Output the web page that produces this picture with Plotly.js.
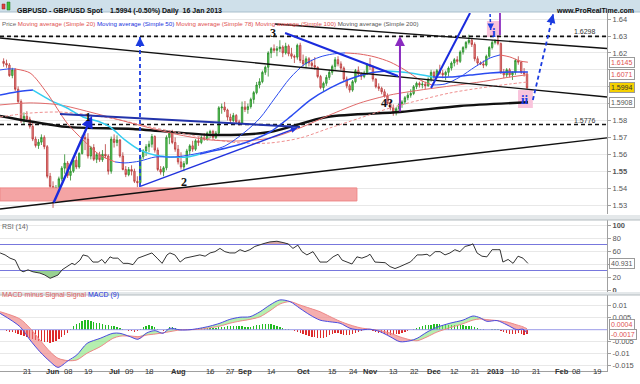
<!DOCTYPE html>
<html><head><meta charset="utf-8">
<script src="https://cdn.plot.ly/plotly-3.0.1.min.js"></script>
<style>html,body{margin:0;padding:0;background:#fff}#chart{width:640px;height:384px}</style>
</head><body><div id="chart"></div>
<script>
// ---- price data: trading-day index 0 = 9 May 2012 ... 180 = 16 Jan 2013
const open=[1.6150,1.6138,1.6128,1.6066,1.6100,1.5985,1.5912,1.5798,1.5825,1.5808,1.5765,1.5690,1.5652,1.5672,1.5700,1.5645,1.5470,1.5410,1.5355,1.5402,1.5455,1.5518,1.5548,1.5475,1.5500,1.5565,1.5525,1.5605,1.5700,1.5690,1.5590,1.5640,1.5570,1.5598,1.5568,1.5600,1.5590,1.5500,1.5690,1.5670,1.5685,1.5590,1.5510,1.5480,1.5510,1.5500,1.5440,1.5432,1.5585,1.5620,1.5645,1.5660,1.5705,1.5625,1.5510,1.5495,1.5520,1.5700,1.5725,1.5670,1.5630,1.5555,1.5525,1.5545,1.5620,1.5650,1.5630,1.5680,1.5670,1.5700,1.5690,1.5725,1.5735,1.5700,1.5725,1.5875,1.5880,1.5862,1.5820,1.5800,1.5830,1.5792,1.5785,1.5880,1.5865,1.5882,1.5925,1.5965,1.6010,1.6030,1.6085,1.6115,1.6200,1.6225,1.6215,1.6225,1.6235,1.6200,1.6240,1.6195,1.6180,1.6175,1.6245,1.6155,1.6135,1.6165,1.6140,1.6125,1.6115,1.6060,1.5995,1.6020,1.6055,1.6085,1.6120,1.6160,1.6135,1.6110,1.6045,1.6005,1.5980,1.6030,1.6095,1.6075,1.6060,1.6080,1.6130,1.6120,1.6045,1.6000,1.5990,1.5970,1.5945,1.5900,1.5875,1.5845,1.5870,1.5895,1.5910,1.5935,1.5950,1.5960,1.6000,1.6020,1.6010,1.6015,1.6005,1.6045,1.6085,1.6060,1.6095,1.6080,1.6070,1.6085,1.6110,1.6140,1.6160,1.6150,1.6205,1.6232,1.6262,1.6275,1.6250,1.6165,1.6140,1.6135,1.6128,1.6180,1.6232,1.6262,1.6270,1.6255,1.6085,1.6070,1.6100,1.6070,1.6085,1.6155,1.6145,1.6085,1.6075];
const high=[1.6168,1.6160,1.6140,1.6112,1.6110,1.6002,1.5925,1.5848,1.5855,1.5822,1.5785,1.5705,1.5690,1.5718,1.5712,1.5655,1.5490,1.5440,1.5418,1.5468,1.5530,1.5600,1.5560,1.5540,1.5578,1.5588,1.5612,1.5712,1.5720,1.5725,1.5650,1.5660,1.5610,1.5615,1.5625,1.5660,1.5600,1.5705,1.5718,1.5712,1.5690,1.5612,1.5530,1.5525,1.5535,1.5515,1.5470,1.5595,1.5630,1.5660,1.5680,1.5720,1.5712,1.5640,1.5530,1.5530,1.5712,1.5740,1.5745,1.5700,1.5655,1.5612,1.5560,1.5632,1.5660,1.5680,1.5690,1.5700,1.5712,1.5725,1.5735,1.5745,1.5745,1.5738,1.5885,1.5900,1.5910,1.5870,1.5840,1.5845,1.5838,1.5805,1.5912,1.5915,1.5900,1.5935,1.5975,1.6028,1.6050,1.6095,1.6125,1.6210,1.6235,1.6250,1.6240,1.6275,1.6245,1.6260,1.6250,1.6230,1.6190,1.6255,1.6260,1.6190,1.6180,1.6175,1.6160,1.6175,1.6120,1.6070,1.6030,1.6070,1.6100,1.6130,1.6175,1.6180,1.6150,1.6120,1.6060,1.6015,1.6040,1.6105,1.6120,1.6085,1.6095,1.6140,1.6170,1.6125,1.6050,1.6020,1.6000,1.5985,1.5960,1.5920,1.5895,1.5880,1.5905,1.5920,1.5945,1.5965,1.5985,1.6010,1.6030,1.6030,1.6035,1.6030,1.6055,1.6100,1.6095,1.6105,1.6130,1.6100,1.6095,1.6120,1.6150,1.6170,1.6180,1.6215,1.6240,1.6270,1.6308,1.6285,1.6262,1.6180,1.6150,1.6155,1.6190,1.6240,1.6275,1.6280,1.6305,1.6262,1.6105,1.6110,1.6110,1.6090,1.6165,1.6180,1.6150,1.6110,1.6085];
const low=[1.6118,1.6112,1.6058,1.6050,1.5975,1.5902,1.5785,1.5775,1.5792,1.5752,1.5678,1.5640,1.5632,1.5655,1.5630,1.5458,1.5375,1.5283,1.5330,1.5385,1.5440,1.5485,1.5460,1.5445,1.5490,1.5512,1.5515,1.5598,1.5625,1.5575,1.5570,1.5560,1.5548,1.5555,1.5555,1.5575,1.5480,1.5485,1.5640,1.5648,1.5580,1.5505,1.5465,1.5470,1.5475,1.5430,1.5405,1.5428,1.5570,1.5590,1.5612,1.5640,1.5610,1.5500,1.5480,1.5470,1.5505,1.5660,1.5660,1.5615,1.5540,1.5510,1.5500,1.5538,1.5595,1.5615,1.5620,1.5650,1.5660,1.5680,1.5680,1.5695,1.5690,1.5690,1.5720,1.5840,1.5850,1.5800,1.5785,1.5790,1.5780,1.5770,1.5778,1.5850,1.5840,1.5870,1.5900,1.5955,1.5990,1.6020,1.6070,1.6060,1.6170,1.6200,1.6180,1.6205,1.6175,1.6190,1.6180,1.6165,1.6140,1.6160,1.6140,1.6120,1.6110,1.6120,1.6110,1.6100,1.6050,1.5985,1.5975,1.6005,1.6040,1.6070,1.6100,1.6120,1.6095,1.6030,1.5990,1.5965,1.5970,1.6020,1.6060,1.6040,1.6050,1.6070,1.6100,1.6030,1.5990,1.5975,1.5955,1.5935,1.5890,1.5860,1.5828,1.5830,1.5855,1.5875,1.5895,1.5920,1.5935,1.5950,1.5985,1.5995,1.5990,1.5985,1.6000,1.6030,1.6045,1.6050,1.6070,1.6050,1.6040,1.6060,1.6095,1.6120,1.6130,1.6140,1.6190,1.6220,1.6250,1.6235,1.6150,1.6125,1.6128,1.6110,1.6120,1.6170,1.6220,1.6250,1.6245,1.6075,1.6050,1.6055,1.6055,1.6040,1.6070,1.6130,1.6075,1.6060,1.5985];
const close=[1.6138,1.6128,1.6066,1.6100,1.5985,1.5912,1.5798,1.5825,1.5808,1.5765,1.5690,1.5652,1.5672,1.5700,1.5645,1.5470,1.5410,1.5355,1.5402,1.5455,1.5518,1.5548,1.5475,1.5500,1.5565,1.5525,1.5605,1.5700,1.5690,1.5590,1.5640,1.5570,1.5598,1.5568,1.5600,1.5590,1.5500,1.5690,1.5670,1.5685,1.5590,1.5510,1.5480,1.5510,1.5500,1.5440,1.5432,1.5585,1.5620,1.5645,1.5660,1.5705,1.5625,1.5510,1.5495,1.5520,1.5700,1.5725,1.5670,1.5630,1.5555,1.5525,1.5545,1.5620,1.5650,1.5630,1.5680,1.5670,1.5700,1.5690,1.5725,1.5735,1.5700,1.5725,1.5875,1.5880,1.5862,1.5820,1.5800,1.5830,1.5792,1.5785,1.5880,1.5865,1.5882,1.5925,1.5965,1.6010,1.6030,1.6085,1.6115,1.6200,1.6225,1.6215,1.6225,1.6235,1.6200,1.6240,1.6195,1.6180,1.6175,1.6245,1.6155,1.6135,1.6165,1.6140,1.6125,1.6115,1.6060,1.5995,1.6020,1.6055,1.6085,1.6120,1.6160,1.6135,1.6110,1.6045,1.6005,1.5980,1.6030,1.6095,1.6075,1.6060,1.6080,1.6130,1.6120,1.6045,1.6000,1.5990,1.5970,1.5945,1.5900,1.5875,1.5845,1.5870,1.5895,1.5910,1.5935,1.5950,1.5960,1.6000,1.6020,1.6010,1.6015,1.6005,1.6045,1.6085,1.6060,1.6095,1.6080,1.6070,1.6085,1.6110,1.6140,1.6160,1.6150,1.6205,1.6232,1.6262,1.6275,1.6250,1.6165,1.6140,1.6135,1.6128,1.6180,1.6232,1.6262,1.6270,1.6255,1.6085,1.6070,1.6100,1.6070,1.6085,1.6155,1.6145,1.6085,1.6075,1.5994];

// ---- moving averages (trading-day index, price)
const ma20Idx=[-1.24,1.5,3.9,9.1,14.9,21.8,27.3,33.1,38.3,41.7,46.9,52.1,58.9,67.5,76.1,83,88.2,93.3,98.5,103.6,108.8,113,117.4,122.6,127.7,132.9,138,143.2,147.3,151.8,156.9,162.1,167.3,170.7,174.1,177.6,180.3];
const ma20Val=[1.6099,1.6105,1.6105,1.6081,1.5963,1.5785,1.5685,1.5596,1.5555,1.5549,1.5560,1.5584,1.5584,1.5608,1.5649,1.5732,1.5815,1.5933,1.6051,1.6134,1.6176,1.6193,1.6200,1.6193,1.6176,1.6146,1.6099,1.6040,1.6010,1.6016,1.6057,1.6117,1.6170,1.6188,1.6176,1.6152,1.6145];
const ma50Idx=[-1.24,4.3,10.1,16,21.8,27.3,33.1,36.6,41.7,46.9,53.8,63.1,67.5,77.9,84.7,91.6,98.5,105.4,112.2,119.1,126,131.8,139.8,147.7,153.5,160.4,167.3,174.1,180.3];
const ma50Val=[1.5951,1.5969,1.5980,1.5921,1.5874,1.5821,1.5791,1.5762,1.5685,1.5625,1.5590,1.5584,1.5602,1.5643,1.5679,1.5732,1.5821,1.5921,1.5992,1.6046,1.6081,1.6093,1.6081,1.6057,1.6057,1.6069,1.6081,1.6087,1.6087];
const ma78Idx=[-1.24,9.1,19.4,29.7,40,50.3,60.7,71,81.3,91.6,101.9,112.2,122.6,132.9,143.2,153.5,163.8,174.1,180.3];
const ma78Val=[1.5892,1.5904,1.5892,1.5850,1.5803,1.5756,1.5714,1.5685,1.5679,1.5696,1.5756,1.5833,1.5904,1.5951,1.5980,1.6004,1.6028,1.6057,1.6071];
const ma100Idx=[-1.24,9.1,19.4,29.7,40,50.3,60.7,71,81.3,91.6,101.9,112.2,122.6,132.9,143.2,153.5,163.8,174.1,180.3];
const ma100Val=[1.5821,1.5844,1.5850,1.5833,1.5803,1.5762,1.5726,1.5691,1.5667,1.5667,1.5696,1.5756,1.5815,1.5874,1.5921,1.5963,1.5992,1.6016,1.6028];
const ma200Idx=[-1.24,21.8,44.5,73.4,91.6,111.2,136.3,156.9,180.3];
const ma200Val=[1.5827,1.5762,1.5750,1.5714,1.5732,1.5821,1.5850,1.5886,1.5908];

// ---- RSI(14)
const rsiIdx=[-1.2,0.5,2.2,4,5.6,6.7,8.4,10.1,12.5,14.2,16,17,18.7,20.1,21.8,23.5,24.5,26.3,27.3,29,30.7,32.5,33.8,34.9,36.6,37.6,39.3,41.1,42.8,44.5,46.2,47.6,49.3,51,52.8,54.5,56.2,57.2,58.9,60.7,62.4,64.1,65.8,67.5,69.3,71,72.7,74.4,76.1,77.8,79.6,81.3,83,84.7,86.4,88.2,89.9,91.6,94,96.1,97.8,99.5,101.2,102.6,104.3,106.4,108.8,111.2,113.3,115,116.4,118.1,119.8,121.5,123.2,125,126,127.7,129.4,131.2,132.9,134.6,136.3,138,139.8,140.8,142.2,143.9,145.6,146.6,148.4,150.1,151.8,153.5,155.2,156.9,158.7,160.4,161.4,162.8,164.5,166.2,168,169.7,170.7,171.7,173.5,175.2,176.9,178.6,180.3];
const rsiVal=[57,54,49,46,31,28,31,28,26,23,18,20,23,31,36,41,39,46,54,52,43,43,47,41,51,49,49,41,41,39,49,51,54,57,49,41,54,57,54,43,49,51,52,54,52,57,59,64,59,57,57,62,59,62,67,69,72,74,75,73,71,64,69,59,54,59,43,43,51,55,46,43,40,51,49,52,55,43,43,42,36,33,36,39,43,47,54,54,55,52,59,59,54,57,62,59,67,69,71,57,52,51,62,62,62,43,47,41,52,49,40.931];

// ---- MACD (12,26,9)
const macdIdx=[-1.2,5.6,9.1,12.5,16,18.7,22.2,25.2,28.7,33.2,37.6,40,43.5,46.2,49.3,52.1,54.8,57.2,60.7,64.1,67.5,71,74.4,77.8,81.3,84.7,88.2,91.6,95,98.5,101.9,105.4,108.8,112.2,115.7,119.1,122.6,126,129.4,132.9,136.3,139.8,142.2,145.6,149,153.5,158,161.4,163.8,166.2,169.7,173.1,176.5,178.6,180];
const macdVal=[0.0068,0.0013,-0.0043,-0.0092,-0.0133,-0.0157,-0.0129,-0.0105,-0.0057,-0.0036,-0.0015,-0.0015,-0.0029,-0.0040,-0.0013,-0.0004,-0.0015,0.0006,-0.0001,0.0000,0.0006,0.0015,0.0027,0.0043,0.0052,0.0054,0.0075,0.0103,0.0124,0.0117,0.0089,0.0061,0.0040,0.0033,0.0027,0.0006,-0.0001,0.0002,-0.0008,-0.0029,-0.0050,-0.0046,-0.0036,-0.0010,0.0010,0.0027,0.0040,0.0057,0.0050,0.0035,0.0038,0.0020,0.0000,0.0002,-0.0013];
const sigVal=[0.0075,0.0045,0.0006,-0.0043,-0.0092,-0.0119,-0.0129,-0.0126,-0.0098,-0.0071,-0.0036,-0.0027,-0.0026,-0.0029,-0.0022,-0.0018,-0.0013,-0.0008,-0.0001,0.0000,0.0002,0.0008,0.0015,0.0027,0.0036,0.0043,0.0054,0.0079,0.0107,0.0117,0.0103,0.0089,0.0075,0.0055,0.0035,0.0020,0.0008,0.0002,-0.0004,-0.0014,-0.0030,-0.0042,-0.0046,-0.0030,-0.0010,0.0008,0.0025,0.0040,0.0045,0.0042,0.0038,0.0032,0.0020,0.0012,0.0004];
const histVal=[-0.0003,-0.0005,-0.0008,-0.0010,-0.0014,-0.0018,-0.0022,-0.0027,-0.0031,-0.0035,
-0.0039,-0.0042,-0.0045,-0.0048,-0.0051,-0.0053,-0.0054,-0.0050,-0.0046,-0.0040,
-0.0032,-0.0024,-0.0012,0.0004,0.0014,0.0022,0.0029,0.0035,0.0039,0.0040,
0.0037,0.0033,0.0030,0.0026,0.0022,0.0020,0.0018,0.0017,0.0016,0.0013,
0.0009,0.0004,-0.0002,-0.0004,-0.0006,-0.0008,-0.0005,0.0003,0.0012,0.0016,
0.0018,0.0017,0.0013,0.0004,-0.0002,-0.0004,0.0004,0.0010,0.0012,0.0008,
0.0004,0.0001,-0.0001,0.0001,0.0002,0.0003,0.0004,0.0006,0.0008,0.0009,
0.0007,0.0007,0.0008,0.0009,0.0011,0.0012,0.0013,0.0014,0.0015,0.0015,
0.0015,0.0015,0.0014,0.0013,0.0012,0.0013,0.0016,0.0019,0.0021,0.0022,
0.0023,0.0024,0.0022,0.0019,0.0015,0.0012,0.0008,0.0004,0.0001,-0.0002,
-0.0006,-0.0010,-0.0014,-0.0018,-0.0022,-0.0026,-0.0029,-0.0032,-0.0034,-0.0035,
-0.0034,-0.0030,-0.0024,-0.0018,-0.0015,-0.0014,-0.0017,-0.0021,-0.0024,-0.0022,
-0.0017,-0.0012,-0.0008,-0.0004,-0.0001,0.0000,-0.0002,-0.0005,-0.0009,-0.0012,
-0.0015,-0.0018,-0.0020,-0.0021,-0.0021,-0.0019,-0.0016,-0.0012,-0.0008,-0.0004,
0.0000,0.0004,0.0008,0.0012,0.0015,0.0018,0.0020,0.0021,0.0022,0.0022,
0.0022,0.0021,0.0020,0.0020,0.0020,0.0020,0.0019,0.0019,0.0018,0.0017,
0.0016,0.0014,0.0012,0.0009,0.0005,0.0002,-0.0001,-0.0002,0.0001,0.0002,
0.0001,-0.0004,-0.0008,-0.0012,-0.0016,-0.0018,-0.0016,-0.0014,-0.0019,-0.0021,
-0.0017];

// ---- x-axis labels
const tickIdx=[8,17,22,29,38,43,50,60,71,78,83,92,103,113,120,126,134,141,148,155,162,169,176,183,192,197,204];
const tickLab=['21','Jun','08','19','Jul','09','18','Aug','16','27','Sep','14','Oct','15','24','Nov','13','22','Dec','12','21','2013','10','21','Feb','08','19'];
const boldLab=['Jun','Jul','Aug','Sep','Oct','Nov','Dec','2013','Feb'];

// ---- analyst drawings (trading-day index, price)
const resistLevel=1.6298, supportLevel=1.5776;
const lineAx=[-1.24,207.5], lineAy=[1.6288,1.5939];
const lineBx=[93.3,207.5], lineBy=[1.6371,1.6226];
const lineCx=[-1.24,207.5], lineCy=[1.5276,1.5697];
const arrow1x=[17,30.4], arrow1y=[1.5306,1.5827];
const vdashx=[46.9,46.9], vdashy=[1.5407,1.6294];
const line2x=[47.2,100.9], line2y=[1.5412,1.5756];
const line2bx=[19.4,101.9], line2by=[1.5838,1.5762];
const line3x=[96.8,135.6], line3y=[1.6318,1.6063];
const steepx=[147,160.4], steepy=[1.5992,1.6436];
const purpx=[136.3,136.3], purpy=[1.5844,1.6300];
const purp2x=[170.7,170.7], purp2y=[1.6306,1.6436];
const boxIx=[166.2,170.7], boxIy=[1.6294,1.6389];
const boxIIx=[176.9,182], boxIIy=[1.5874,1.5980];
const dashUpx=[182,189], dashUpy=[1.5921,1.6430];
const dashIx=[167.3,167.5], dashIy=[1.6430,1.6335];
const zoneX=[-1.24,121.5], zoneY=[1.5324,1.5401];
const waveLab=['1','2','3','4?'], waveX=[29,62,92.6,131.8], waveY=[1.5818,1.5436,1.6318,1.5904];

// ---- styles
const BLUE='#2a4bf0', RED='#e06060', CYAN='#34cdf0';
const ma20Breaks=[3.9,38.3,117.4,147.3,170.7], ma20Colors=[BLUE,RED,BLUE,RED,BLUE,RED];
const ma50Breaks=[10.1,67.5,131.8,147.7], ma50Colors=[BLUE,CYAN,BLUE,CYAN,BLUE];

// ---- geometry helpers (pixel layout of the panels)
const PH=371; const py=v=>(PH-v)/PH; const PW=607;
const priceAt=y=>1.63+(36-y)/1690, rsiAt=y=>(290-y)/0.65, macdAt=y=>(329.7-y)/2400;
const idx=close.map((_,i)=>i);
const xr=[-1.24,207.5];

function ln(x,y,color,width,dash,ya,shape){return {type:'scatter',mode:'lines',x:x,y:y,xaxis:'x',yaxis:ya||'y',line:{color:color,width:width,dash:dash||'solid',shape:shape||'linear',smoothing:0.8},hoverinfo:'skip',showlegend:false};}
function fillTr(x,y,color,fill,ya){return {type:'scatter',mode:'lines',x:x,y:y,xaxis:'x',yaxis:ya,line:{width:0,color:color},fill:fill,fillcolor:color,hoverinfo:'skip',showlegend:false};}
function segTraces(xs,ys,breaks,colors,w){const cuts=[0].concat(breaks.map(b=>xs.indexOf(b)),[xs.length-1]);const out=[];for(let k=0;k<cuts.length-1;k++){out.push(ln(xs.slice(cuts[k],cuts[k+1]+1),ys.slice(cuts[k],cuts[k+1]+1),colors[k],w,null,'y','spline'));}return out;}

const traces=[];
traces.push({type:'scatter',mode:'lines',x:[zoneX[0],zoneX[1],zoneX[1],zoneX[0],zoneX[0]],y:[zoneY[0],zoneY[0],zoneY[1],zoneY[1],zoneY[0]],fill:'toself',fillcolor:'#f4a4a4',line:{color:'#e88',width:1},xaxis:'x',yaxis:'y',hoverinfo:'skip',showlegend:false});
[[boxIx,boxIy],[boxIIx,boxIIy]].forEach(b=>traces.push({type:'scatter',mode:'lines',x:[b[0][0],b[0][1],b[0][1],b[0][0],b[0][0]],y:[b[1][0],b[1][0],b[1][1],b[1][1],b[1][0]],fill:'toself',fillcolor:'#f9c4dc',line:{width:0},xaxis:'x',yaxis:'y',hoverinfo:'skip',showlegend:false}));
traces.push(ln(xr,[resistLevel,resistLevel],'#111',1.6,'4px,3px'));
traces.push(ln(xr,[supportLevel,supportLevel],'#111',1.6,'4px,3px'));
traces.push({type:'candlestick',x:idx,open:open,high:high,low:low,close:close,xaxis:'x',yaxis:'y',
  increasing:{line:{color:'#2a8a2a',width:0.8},fillcolor:'#5ad25a'},
  decreasing:{line:{color:'#b83b3b',width:0.8},fillcolor:'#f08a8a'},whiskerwidth:0,hoverinfo:'skip',showlegend:false});
traces.push(ln(ma200Idx,ma200Val,'#111',2.4,null,'y','spline'));
traces.push(ln(ma100Idx,ma100Val,'#ef9090',1,'3px,2px','y','spline'));
traces.push(ln(ma78Idx,ma78Val,'#e06a6a',1,null,'y','spline'));
segTraces(ma50Idx,ma50Val,ma50Breaks,ma50Colors,1.5).forEach(t=>traces.push(t));
segTraces(ma20Idx,ma20Val,ma20Breaks,ma20Colors,1).forEach(t=>traces.push(t));
traces.push(ln(lineAx,lineAy,'#111',1.4));
traces.push(ln(lineBx,lineBy,'#111',1.4));
traces.push(ln(lineCx,lineCy,'#111',1.4));
traces.push(ln(line2x,line2y,'#2233dd',1.3));
traces.push(ln(line2bx,line2by,'#2233aa',2));
traces.push(ln(line3x,line3y,'#1a2bdd',2));
traces.push(ln(steepx,steepy,'#1a2bdd',2));
traces.push(ln(vdashx,vdashy,'#1a3be0',1.8,'4px,3px'));
traces.push(ln(dashUpx,dashUpy,'#1a3be0',1.8,'4px,3px'));
traces.push(ln(dashIx,dashIy,'#1a3be0',1.5,'3px,2px'));
traces.push(ln(purp2x,purp2y,'#8a2bc0',1.8));

const rsiLow=rsiVal.map(v=>Math.min(v,30)), rsiHigh=rsiVal.map(v=>Math.max(v,70));
traces.push(ln(rsiIdx,rsiIdx.map(()=>30),'rgba(0,0,0,0)',0,null,'y2'));
traces.push(fillTr(rsiIdx,rsiLow,'rgba(110,190,100,0.7)','tonexty','y2'));
traces.push(ln(rsiIdx,rsiIdx.map(()=>70),'rgba(0,0,0,0)',0,null,'y2'));
traces.push(fillTr(rsiIdx,rsiHigh,'rgba(200,130,130,0.7)','tonexty','y2'));
traces.push(ln(xr,[70,70],'#7777dd',1.2,null,'y2'));
traces.push(ln(xr,[30,30],'#7777dd',1.2,null,'y2'));
traces.push(ln(rsiIdx,rsiVal,'#333',1,null,'y2'));

const mHi=macdVal.map((v,i)=>Math.max(v,sigVal[i])), mLo=macdVal.map((v,i)=>Math.min(v,sigVal[i]));
traces.push(ln(macdIdx,sigVal,'rgba(0,0,0,0)',0,null,'y3','spline'));
traces.push(Object.assign(fillTr(macdIdx,mHi,'rgba(120,225,110,0.55)','tonexty','y3'),{line:{width:0,shape:'spline'}}));
traces.push(ln(macdIdx,sigVal,'rgba(0,0,0,0)',0,null,'y3','spline'));
traces.push(Object.assign(fillTr(macdIdx,mLo,'rgba(238,120,120,0.6)','tonexty','y3'),{line:{width:0,shape:'spline'}}));
traces.push(ln(xr,[0,0],'#9a9ae8',1,null,'y3'));
traces.push({type:'bar',x:idx,y:histVal,xaxis:'x',yaxis:'y3',width:0.45,marker:{color:histVal.map(v=>v>=0?'#22bb22':'#dd2a2a'),line:{width:0}},hoverinfo:'skip',showlegend:false});
traces.push(ln(macdIdx,sigVal,'#ee8888',1,null,'y3','spline'));
traces.push(ln(macdIdx,macdVal,'#4a4ae0',1,null,'y3','spline'));

// ---- annotations
const F='Liberation Sans, Arial, sans-serif';
const ann=[];
function arrow(x,y,ax,ay,color,w){ann.push({x:x,y:y,ax:ax,ay:ay,xref:'x',yref:'y',axref:'x',ayref:'y',showarrow:true,arrowhead:2,arrowsize:1,arrowwidth:w,arrowcolor:color,text:''});}
arrow(arrow1x[1],arrow1y[1],arrow1x[0],arrow1y[0],'#1a2bdd',2.4);
arrow(purpx[1],purpy[1],purpx[0],purpy[0],'#8a2bc0',2);
arrow(vdashx[1],vdashy[1],vdashx[1],vdashy[1]-0.004,'#1a3be0',1.8);
arrow(dashUpx[1],dashUpy[1],dashUpx[1]-0.6,dashUpy[1]-0.004,'#1a3be0',1.8);
arrow(line2x[1],line2y[1],line2x[1]-3,line2y[1]-0.0019,'#2233dd',1.2);
arrow(dashIx[1],dashIy[1],dashIx[1],dashIy[1]+0.003,'#1a3be0',1.3);
waveLab.forEach((t,i)=>ann.push({x:waveX[i],y:waveY[i],xref:'x',yref:'y',text:'<b>'+t+'</b>',showarrow:false,font:{family:'Liberation Serif, serif',size:12,color:'#111'}}));
ann.push({x:168.7,y:1.6322,xref:'x',yref:'y',text:'<b>i</b>',showarrow:false,font:{family:'Liberation Serif, serif',size:13,color:'#1a3be0'}});
ann.push({x:179.4,y:1.5922,xref:'x',yref:'y',text:'<b>ii</b>',showarrow:false,font:{family:'Liberation Serif, serif',size:13,color:'#1a3be0'}});
ann.push({x:200,y:resistLevel,xref:'x',yref:'y',text:'1.6298',showarrow:false,yanchor:'bottom',yshift:-1,font:{family:F,size:7,color:'#333'}});
ann.push({x:200,y:supportLevel,xref:'x',yref:'y',text:'1.5776',showarrow:false,yanchor:'bottom',yshift:-1,font:{family:F,size:7,color:'#333'}});
function vbox(v,ya,txt,col,bg){ann.push({xref:'paper',x:1,xanchor:'left',xshift:2,yref:ya,y:v,text:txt,showarrow:false,font:{family:F,size:7,color:col},bgcolor:bg||'#fff',bordercolor:'#9a9a9a',borderwidth:1,borderpad:1});}
vbox(1.6145,'y','1.6145','#e05050');
vbox(1.6071,'y','1.6071','#e05050');
vbox(1.5908,'y','1.5908','#555');
vbox(1.5994,'y','1.5994','#333','#f5d000');
vbox(40.931,'y2','40.931','#555');
vbox(0.0022,'y3','0.0004','#e05050');
vbox(-0.0019,'y3','-0.0017','#e05050');
tickIdx.forEach((v,i)=>ann.push({x:v,xref:'x',yref:'paper',y:py(378),text:boldLab.includes(tickLab[i])?'<b>'+tickLab[i]+'</b>':tickLab[i],showarrow:false,font:{family:F,size:7.5,color:'#333'}}));
ann.push({xref:'paper',yref:'paper',x:15/PW,y:py(5.5),xanchor:'left',text:'<b>GBPUSD - GBP/USD Spot</b>',showarrow:false,font:{family:F,size:7,color:'#111'}});
ann.push({xref:'paper',yref:'paper',x:108/PW,y:py(5.5),xanchor:'left',text:'<b>1.5994 (-0.50%)</b>',showarrow:false,font:{family:F,size:7,color:'#111'}});
ann.push({xref:'paper',yref:'paper',x:160/PW,y:py(5.5),xanchor:'left',text:'<b>Daily  16 Jan 2013</b>',showarrow:false,font:{family:F,size:7,color:'#111'}});
ann.push({xref:'paper',yref:'paper',x:636/PW,y:py(5.5),xanchor:'right',text:'<b>www.ProRealTime.com</b>',showarrow:false,font:{family:F,size:7,color:'#111'}});
ann.push({xref:'paper',yref:'paper',x:0,y:py(17.5),xanchor:'left',text:'<span style="color:#666">Price </span><span style="color:#e05050">Moving average (Simple 20) </span><span style="color:#2233dd">Moving average (Simple 50) </span><span style="color:#e05050">Moving average (Simple 78) Moving average (Simple 100) </span><span style="color:#555">Moving average (Simple 200)</span>',showarrow:false,font:{family:F,size:6.2}});
ann.push({xref:'paper',yref:'paper',x:0,y:py(227),xanchor:'left',text:'RSI (14)',showarrow:false,font:{family:F,size:7,color:'#666'}});
ann.push({xref:'paper',yref:'paper',x:0,y:py(301),xanchor:'left',text:'<span style="color:#e06060">MACD minus Signal Signal </span><span style="color:#2233dd">MACD (9)</span>',showarrow:false,font:{family:F,size:7}});

const shapes=[
 {type:'rect',xref:'paper',yref:'paper',x0:0,x1:640/PW,y0:py(12),y1:py(0),fillcolor:'#cfe0ea',line:{width:0},layer:'below'},
 {type:'line',xref:'paper',yref:'paper',x0:0,x1:640/PW,y0:py(12),y1:py(12),line:{color:'#a9bfcc',width:1}},
 {type:'rect',xref:'paper',yref:'paper',x0:0,x1:640/PW,y0:py(220),y1:py(215),fillcolor:'#e4e8ea',line:{width:0}},
 {type:'line',xref:'paper',yref:'paper',x0:0,x1:640/PW,y0:py(220),y1:py(220),line:{color:'#b4bcc0',width:1}},
 {type:'rect',xref:'paper',yref:'paper',x0:0,x1:640/PW,y0:py(295),y1:py(292),fillcolor:'#e4e8ea',line:{width:0}},
 {type:'line',xref:'paper',yref:'paper',x0:0,x1:640/PW,y0:py(295),y1:py(295),line:{color:'#b4bcc0',width:1}}
];
shapes.push({type:'rect',xref:'paper',yref:'paper',x0:2/PW,x1:5/PW,y0:py(9),y1:py(4),fillcolor:'#e04040',line:{color:'#902020',width:0.5}});
shapes.push({type:'rect',xref:'paper',yref:'paper',x0:7/PW,x1:10/PW,y0:py(10),y1:py(2),fillcolor:'#3cc03c',line:{color:'#207020',width:0.5}});

const ax={showline:true,linecolor:'#a0a0a0',linewidth:1,ticks:'outside',ticklen:3,tickcolor:'#a0a0a0',tickfont:{family:F,size:7.5,color:'#555'},zeroline:false,fixedrange:true};
const pTicks=[1.53,1.54,1.55,1.56,1.57,1.58,1.59,1.60,1.61,1.62,1.63,1.64];
const pHidden=[1.59,1.60,1.61];
const layout={
 width:640,height:384,margin:{l:0,r:33,t:0,b:13},paper_bgcolor:'#fff',plot_bgcolor:'#fff',showlegend:false,bargap:0,
 xaxis:Object.assign({},ax,{domain:[0,1],range:xr,anchor:'y3',tickvals:tickIdx,showticklabels:false,ticklen:2,showgrid:false,rangeslider:{visible:false}}),
 yaxis:Object.assign({},ax,{domain:[py(214),py(13)],range:[priceAt(214),priceAt(13)],side:'right',anchor:'x',tickvals:pTicks,ticktext:pTicks.map(v=>pHidden.includes(v)?'':(v===1.55?'<b>1.55</b>':v.toFixed(2))),showgrid:true,gridcolor:'#e8e8e8'}),
 yaxis2:Object.assign({},ax,{domain:[py(292),py(220)],range:[rsiAt(292),rsiAt(220)],side:'right',anchor:'x',tickvals:[0,20,40,60,80,100],ticktext:['<b>0</b>','20','','60','80','<b>100</b>'],showgrid:true,gridcolor:'#e8e8e8'}),
 yaxis3:Object.assign({},ax,{domain:[0,py(295)],range:[macdAt(371),macdAt(295)],side:'right',anchor:'x',tickvals:[-0.015,-0.01,-0.005,0.005,0.01],ticktext:['-0.015','-0.01','-0.005','0.005','0.01'],showgrid:true,gridcolor:'#e8e8e8'}),
 annotations:ann,shapes:shapes
};
Plotly.newPlot('chart',traces,layout,{staticPlot:true,displayModeBar:false});
</script></body></html>
